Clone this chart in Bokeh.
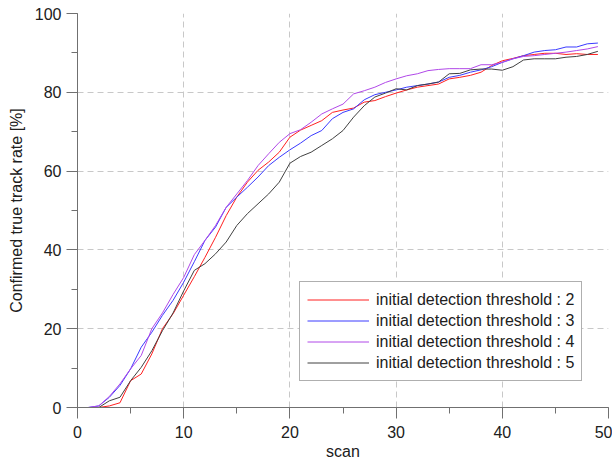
from bokeh.plotting import figure
from bokeh.models import SingleIntervalTicker, Legend, LegendItem, Range1d
from bokeh.embed import file_html
from bokeh.resources import INLINE

scans = list(range(50))

thr2 = [0, 0, 0, 0.4, 1.2, 6.8, 8.5, 13.6, 20.0, 23.8,
        28.5, 33.2, 38.1, 43.2, 48.7, 53.4, 57.2, 60.2, 62.3, 64.8,
        68.6, 70.4, 71.6, 72.8, 74.9, 75.5, 76.0, 77.5, 77.9, 78.9,
        79.8, 80.6, 81.3, 81.7, 82.1, 83.4, 83.8, 84.3, 85.1, 86.8,
        88.0, 88.6, 89.3, 89.6, 89.9, 89.9, 89.6, 89.8, 89.6, 89.6]
thr3 = [0, 0, 0.4, 2.6, 5.6, 9.8, 15.3, 19.1, 23.4, 27.2,
        31.8, 37.0, 42.4, 45.8, 50.8, 53.4, 55.9, 58.5, 61.4, 63.5,
        65.4, 67.1, 69.0, 70.3, 73.3, 74.9, 75.8, 78.1, 79.4, 80.0,
        80.6, 81.3, 81.7, 82.1, 82.6, 83.8, 84.3, 85.1, 85.7, 86.5,
        87.6, 88.5, 89.3, 90.2, 90.6, 90.8, 91.5, 91.5, 92.3, 92.5]
thr4 = [0, 0, 0.4, 2.8, 6.0, 9.8, 13.2, 20.0, 24.0, 28.7,
        33.0, 38.8, 42.4, 46.2, 50.8, 54.2, 57.6, 61.4, 64.4, 67.3,
        69.5, 70.5, 72.4, 74.5, 75.8, 77.0, 79.6, 80.4, 81.3, 82.5,
        83.4, 84.2, 84.7, 85.5, 85.8, 86.0, 86.0, 86.0, 87.0, 87.0,
        87.6, 88.5, 89.1, 89.3, 89.6, 89.9, 90.2, 90.6, 91.0, 91.6]
thr5 = [0, 0, 0, 1.7, 2.6, 6.8, 10.2, 14.4, 19.5, 24.0,
        29.6, 34.8, 36.5, 39.0, 42.0, 46.2, 49.2, 51.7, 54.2, 57.2,
        62.0, 63.7, 64.8, 66.5, 68.2, 70.3, 73.7, 76.6, 78.8, 79.8,
        80.9, 80.6, 81.7, 82.1, 82.6, 84.7, 84.8, 85.7, 85.9, 85.9,
        85.6, 86.5, 88.2, 88.5, 88.5, 88.5, 88.9, 89.1, 89.6, 90.4]

series = [thr2, thr3, thr4, thr5]
labels = ["initial detection threshold : 2", "initial detection threshold : 3",
          "initial detection threshold : 4", "initial detection threshold : 5"]
colors = ["#ff2020", "#3a3aff", "#b048e8", "#404040"]

FONT = "Liberation Sans"

p = figure(width=612, height=466, output_backend="svg", toolbar_location=None,
           x_range=Range1d(0, 50), y_range=Range1d(0, 100),
           min_border_left=77, min_border_right=4, min_border_top=13, min_border_bottom=59)
p.outline_line_color = None
p.background_fill_color = "white"
p.border_fill_color = "white"

items = []
for ys, lab, col in zip(series, labels, colors):
    r = p.line(scans, ys, line_color=col, line_width=1)
    items.append(LegendItem(label=lab, renderers=[r]))

p.xaxis.ticker = SingleIntervalTicker(interval=10, num_minor_ticks=2)
p.yaxis.ticker = SingleIntervalTicker(interval=20, num_minor_ticks=2)
for ax in (p.xaxis[0], p.yaxis[0]):
    ax.axis_line_color = "#707070"
    ax.major_tick_line_color = "#707070"
    ax.minor_tick_line_color = "#707070"
    ax.major_tick_out = 11
    ax.major_tick_in = 0
    ax.minor_tick_out = 6
    ax.minor_tick_in = 0
    ax.major_label_text_font = FONT
    ax.major_label_text_font_size = "16px"
    ax.major_label_text_color = "#202020"
    ax.axis_label_text_font = FONT
    ax.axis_label_text_font_size = "16px"
    ax.axis_label_text_font_style = "normal"
    ax.axis_label_text_color = "#202020"
p.xaxis.axis_label = "scan"
p.yaxis.axis_label = "Confirmed true track rate [%]"
p.xaxis.major_label_standoff = 7
p.yaxis.major_label_standoff = 5
p.xaxis.axis_label_standoff = 2
p.yaxis.axis_label_standoff = 7

p.grid.grid_line_color = "#c8c8c8"
p.grid.grid_line_dash = "6 4"
p.grid.grid_line_width = 1

legend = Legend(items=items, location=(222, 26))
legend.label_text_font = FONT
legend.label_text_font_size = "16px"
legend.label_text_color = "#202020"
legend.glyph_width = 62
legend.glyph_height = 21
legend.label_height = 21
legend.spacing = 0
legend.padding = 7
legend.margin = 0
legend.label_standoff = 7
legend.border_line_color = "#606060"
legend.border_line_width = 1
legend.background_fill_color = "white"
legend.background_fill_alpha = 1
p.add_layout(legend)

open("out.html", "w").write(file_html(p, INLINE))
